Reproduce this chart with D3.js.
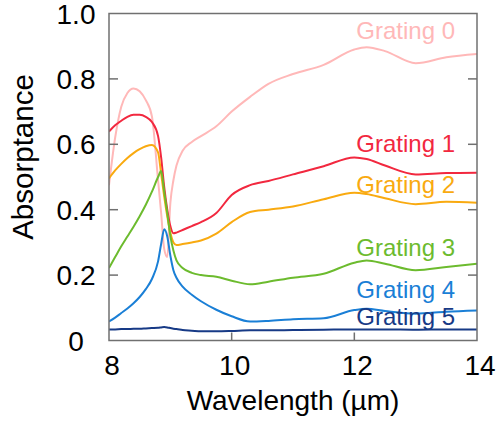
<!DOCTYPE html>
<html><head><meta charset="utf-8">
<script src="https://cdn.jsdelivr.net/npm/d3@7"></script>
<style>body{margin:0;background:#fff}</style>
</head><body>
<svg id="c" width="500" height="425"></svg>
<script>
const wavelength = [8.0,8.1,8.2,8.3,8.4,8.5,8.6,8.7,8.8,8.85,8.9,8.95,9.0,9.05,9.1,9.2,9.35,9.5,9.75,10.0,10.3,10.6,11.0,11.5,12.0,12.2,12.5,13.0,13.5,14.0];
const grating0 = [0.475,0.62,0.715,0.757,0.771,0.762,0.735,0.685,0.49,0.39,0.28,0.255,0.42,0.49,0.535,0.58,0.607,0.625,0.655,0.70,0.745,0.785,0.815,0.843,0.89,0.897,0.885,0.848,0.866,0.876];
const grating1 = [0.639,0.658,0.672,0.684,0.69,0.69,0.684,0.668,0.625,0.56,0.47,0.40,0.35,0.328,0.33,0.338,0.35,0.362,0.39,0.445,0.475,0.488,0.508,0.533,0.56,0.555,0.535,0.508,0.512,0.513];
const grating2 = [0.496,0.52,0.54,0.558,0.573,0.585,0.594,0.598,0.575,0.51,0.44,0.38,0.33,0.30,0.292,0.295,0.30,0.306,0.327,0.362,0.393,0.40,0.41,0.432,0.452,0.448,0.435,0.417,0.424,0.421];
const grating3 = [0.222,0.255,0.288,0.318,0.348,0.38,0.415,0.455,0.50,0.518,0.455,0.39,0.32,0.275,0.245,0.222,0.207,0.200,0.195,0.183,0.172,0.18,0.192,0.204,0.238,0.245,0.235,0.215,0.225,0.235];
const grating4 = [0.058,0.07,0.084,0.098,0.114,0.133,0.157,0.188,0.242,0.295,0.34,0.318,0.26,0.215,0.192,0.165,0.14,0.12,0.094,0.074,0.058,0.06,0.065,0.068,0.093,0.097,0.09,0.082,0.088,0.092];
const grating5 = [0.034,0.034,0.035,0.035,0.036,0.036,0.037,0.038,0.039,0.040,0.041,0.040,0.038,0.036,0.035,0.032,0.030,0.028,0.028,0.029,0.031,0.031,0.032,0.033,0.034,0.034,0.034,0.033,0.034,0.034];
const seriesNames = ["Grating 0","Grating 1","Grating 2","Grating 3","Grating 4","Grating 5"];
const seriesColors = ["#ffb8b8","#f2283f","#f9aa10","#6cbb2e","#1a7fd6","#173a86"];
const xTicks = [8,10,12,14];
const yTicks = [0,0.2,0.4,0.6,0.8,1.0];
const yTickLabels = ["0","0.2","0.4","0.6","0.8","1.0"];

const allSeries = [grating0,grating1,grating2,grating3,grating4,grating5];

const svg = d3.select("#c");
const L=109, R=477, T=13.5, B=340.5;
const x = d3.scaleLinear().domain([8,14]).range([L,R]);
const y = d3.scaleLinear().domain([0,1]).range([B,T]);
const font = "Arial, 'Liberation Sans', sans-serif";

svg.append("defs").append("clipPath").attr("id","clip")
  .append("rect").attr("x",L).attr("y",T).attr("width",R-L).attr("height",B-T);

const line = d3.line().x(d=>x(d[0])).y(d=>y(d[1])).curve(d3.curveMonotoneX);
const g = svg.append("g").attr("clip-path","url(#clip)");
allSeries.forEach((s,i)=>{
  g.append("path").datum(wavelength.map((w,j)=>[w,s[j]]))
    .attr("d",line).attr("fill","none").attr("stroke",seriesColors[i]).attr("stroke-width",2);
});

// frame
const frameColor = "#707070";
svg.append("rect").attr("x",L).attr("y",T).attr("width",R-L).attr("height",B-T)
  .attr("fill","none").attr("stroke",frameColor).attr("stroke-width",1.5);

// y ticks inward left and right
yTicks.filter(v=>v>0 && v<1).forEach(v=>{
  svg.append("line").attr("x1",L).attr("x2",L+9).attr("y1",y(v)).attr("y2",y(v)).attr("stroke",frameColor).attr("stroke-width",1.5);
  svg.append("line").attr("x1",R).attr("x2",R-9).attr("y1",y(v)).attr("y2",y(v)).attr("stroke",frameColor).attr("stroke-width",1.5);
});
xTicks.filter(v=>v>8 && v<14).forEach(v=>{
  svg.append("line").attr("x1",x(v)).attr("x2",x(v)).attr("y1",B).attr("y2",B-8).attr("stroke",frameColor).attr("stroke-width",1.5);
});

// tick labels
yTicks.forEach((v,i)=>{
  svg.append("text").attr("x",76).attr("y",y(v)+10).attr("text-anchor","middle")
    .attr("font-family",font).attr("font-size",28).attr("fill","#000").text(yTickLabels[i]);
});
xTicks.forEach(v=>{
  svg.append("text").attr("x",x(v)+3).attr("y",375).attr("text-anchor","middle")
    .attr("font-family",font).attr("font-size",28).attr("fill","#000").text(v);
});

// axis titles
svg.append("text").attr("x",293).attr("y",410).attr("text-anchor","middle")
  .attr("font-family",font).attr("font-size",28).attr("fill","#000").text("Wavelength (µm)");
svg.append("text").attr("transform","translate(33,157) rotate(-90)").attr("text-anchor","middle")
  .attr("font-family",font).attr("font-size",29.5).attr("fill","#000").text("Absorptance");

// series labels
const labelBaselines = [39,152,193,256,298,325];
seriesNames.forEach((n,i)=>{
  svg.append("text").attr("x",455).attr("y",labelBaselines[i]).attr("text-anchor","end")
    .attr("font-family",font).attr("font-size",24).attr("fill",seriesColors[i]).text(n);
});
</script>
</body></html>
